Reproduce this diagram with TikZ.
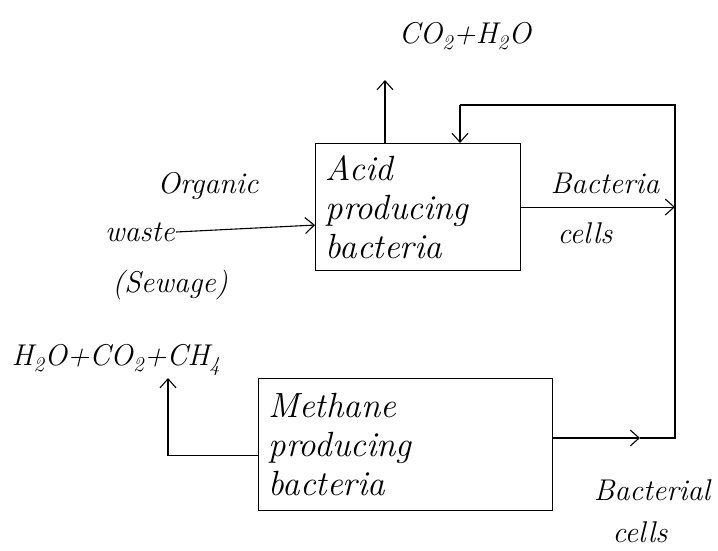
\documentclass[tikz,border=0pt]{standalone}
\usetikzlibrary{arrows.meta,calc}
\begin{document}
\begin{tikzpicture}[x=1pt,y=-1pt,
  proc/.style={draw, line width=1.1pt, anchor=north west, align=left,
    inner sep=10pt, font=\fontsize{35}{39}\selectfont\itshape},
  lab/.style={font=\fontsize{30}{34}\selectfont\itshape, inner sep=1pt},
  wire/.style={line width=1.1pt},
  flow/.style={wire, -{Straight Barb[length=9pt,width=16pt]}}]
% canvas
\fill[white] (0,0) rectangle (718,550);
\useasboundingbox (0,0) rectangle (718,550);

% process boxes
\node[proc, minimum width=205, minimum height=127, text width=185] (acid) at (315,143)
  {Acid\\producing\\bacteria};
\node[proc, minimum width=294, minimum height=132, text width=274] (meth) at (258,378)
  {Methane\\producing\\bacteria};

% labels
\node[lab] (co2) at (465,36) {CO\textsubscript{2}+H\textsubscript{2}O};
\node[lab] (organic) at (208,186) {Organic};
\node[lab] (waste) at (140,232) {waste};
\node[lab] (sewage) at (170,285) {(Sewage)};
\node[lab] (bact1) at (605,183) {Bacteria};
\node[lab] (cells1) at (585,233) {cells};
\node[lab] (gas) at (116,360) {H\textsubscript{2}O+CO\textsubscript{2}+CH\textsubscript{4}};
\node[lab] (bact2) at (652,490) {Bacterial};
\node[lab] (cells2) at (640,532) {cells};

% routing points
\coordinate (co2in) at (385,80);
\coordinate (gasin) at (168,378);
\coordinate (tr) at (675,105);
\coordinate (tl) at (460,105);
\coordinate (br) at (675,438);
\coordinate (mid) at (640,438);

% connectors
\draw[flow] (waste.east) -- ($(acid.west)+(0,18)$);
\draw[flow] (acid.north -| co2in) -- (co2in);
\draw[flow] (acid.east) -- (acid.east -| tr);
\draw[flow] (meth.east |- br) -- (mid);
\draw[wire] (mid) -- (br) -- (tr) -- (tl);
\draw[flow] (tl) -- (tl |- acid.north);
\draw[flow] ($(meth.west)+(0,11)$) -| (gasin);
\end{tikzpicture}
\end{document}
